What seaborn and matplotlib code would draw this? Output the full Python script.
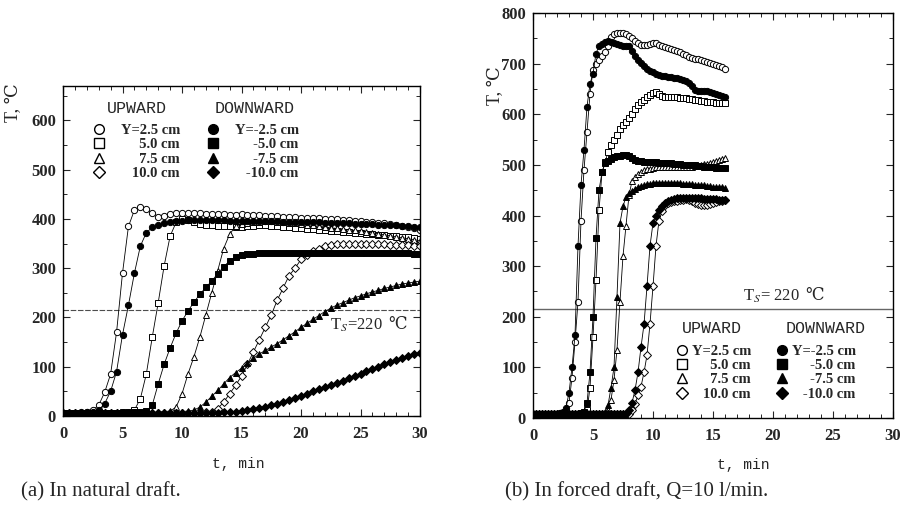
import seaborn as sns
import matplotlib.pyplot as plt
from matplotlib.lines import Line2D
from matplotlib.ticker import MultipleLocator

# ---- (a) natural draft: time, min (every 0.5 min) ----
t_natural = [0, 0.5, 1, 1.5, 2, 2.5, 3, 3.5, 4, 4.5, 5, 5.5, 6, 6.5, 7, 7.5, 8, 8.5, 9, 9.5,
             10, 10.5, 11, 11.5, 12, 12.5, 13, 13.5, 14, 14.5, 15, 15.5, 16, 16.5, 17, 17.5,
             18, 18.5, 19, 19.5, 20, 20.5, 21, 21.5, 22, 22.5, 23, 23.5, 24, 24.5, 25, 25.5,
             26, 26.5, 27, 27.5, 28, 28.5, 29, 29.5, 30]

nat_up_25 = [7, 7, 7, 8, 8, 12, 22, 48, 85, 170, 290, 385, 418, 425, 420, 412, 405, 407, 410, 412, 413,
             413, 412, 412, 411, 410, 411, 410, 409, 409, 410,
             409, 408, 408, 407, 406, 406, 405, 404, 404, 403,
             402, 402, 401, 400, 400, 399, 398, 397, 396, 395,
             394, 393, 392, 391, 390, 388, 386, 384, 381, 378]
nat_dn_25 = [7, 7, 7, 7, 8, 8, 12, 25, 50, 90, 165, 225, 290, 345, 372, 383, 388, 391, 393, 395, 396,
             397, 397, 397, 397, 397, 397, 397, 396, 396, 396,
             396, 396, 395, 395, 395, 395, 394, 394, 394, 394,
             393, 393, 393, 392, 392, 392, 391, 391, 390, 390,
             389, 389, 388, 388, 387, 387, 386, 385, 384, 383]
nat_up_50 = [7, 7, 7, 7, 7, 7, 7, 7, 7, 7, 8, 9, 12, 35, 85, 160, 230, 305, 365, 393, 400,
             398, 394, 390, 388, 387, 386, 385, 385, 384, 384,
             385, 386, 387, 387, 386, 385, 384, 383, 382, 381,
             380, 379, 378, 377, 376, 375, 374, 373, 372, 371,
             370, 369, 368, 367, 366, 365, 364, 363, 362, 360]
nat_dn_50 = [7, 7, 7, 7, 7, 7, 7, 7, 7, 7, 7, 7, 8, 8, 10, 22, 65, 105, 138, 168, 193,
             213, 231, 247, 261, 274, 289, 303, 315, 322, 326,
             328, 329, 330, 330, 331, 331, 331, 331, 331, 331,
             331, 331, 331, 331, 330, 330, 330, 330, 330, 330,
             330, 330, 330, 330, 330, 330, 330, 330, 329, 329]
nat_up_75 = [7, 7, 7, 7, 7, 7, 7, 7, 7, 7, 7, 7, 7, 7, 7, 7, 8, 9, 10, 18, 45,
             85, 120, 160, 205, 250, 295, 340, 369, 385, 390,
             392, 393, 394, 395, 395, 394, 393, 392, 391, 389,
             388, 387, 385, 384, 382, 381, 380, 378, 377, 375,
             373, 372, 370, 368, 366, 364, 362, 360, 358, 356]
nat_dn_75 = [7, 7, 7, 7, 7, 7, 7, 7, 7, 7, 7, 7, 7, 7, 7, 7, 7, 7, 7, 8, 9,
             10, 12, 18, 28, 40, 52, 65, 78, 88, 97,
             107, 117, 126, 133, 140, 147, 155, 163, 171, 180,
             188, 196, 204, 212, 219, 225, 230, 235, 240, 244,
             248, 252, 255, 259, 262, 265, 268, 270, 272, 274]
nat_up_100 = [7, 7, 7, 7, 7, 7, 7, 7, 7, 7, 7, 7, 7, 7, 7, 7, 7, 7, 7, 7, 7, 7, 7, 7, 8, 9,
              15, 28, 45, 62, 81,
              105, 130, 155, 180, 205, 235, 260, 285, 300, 318,
              326, 335, 340, 345, 347, 349, 350, 350, 350, 350,
              350, 350, 349, 349, 348, 348, 347, 347, 346, 345]
nat_dn_100 = [7, 7, 7, 7, 7, 7, 7, 7, 7, 7, 7, 7, 7, 7, 7, 7, 7, 7, 7, 7, 7, 7, 7, 7, 7, 7, 7, 8, 8,
              9, 10,
              12, 14, 16, 19, 22, 25, 29, 33, 37, 41,
              45, 50, 54, 58, 63, 67, 72, 77, 82, 86,
              91, 96, 100, 105, 110, 114, 118, 122, 125, 128]

# ---- (b) forced draft, Q=10 l/min: time, min (every 0.25 min) ----
t_forced = [0, 0.25, 0.5, 0.75, 1, 1.25, 1.5, 1.75, 2, 2.25, 2.5, 2.75,
            3, 3.25, 3.5, 3.75, 4, 4.25, 4.5, 4.75, 5, 5.25, 5.5, 5.75,
            6, 6.25, 6.5, 6.75, 7, 7.25, 7.5, 7.75, 8, 8.25, 8.5, 8.75,
            9, 9.25, 9.5, 9.75, 10, 10.25, 10.5, 10.75, 11, 11.25, 11.5, 11.75,
            12, 12.25, 12.5, 12.75, 13, 13.25, 13.5, 13.75, 14, 14.25, 14.5, 14.75,
            15, 15.25, 15.5, 15.75, 16]

frc_up_25 = [8, 8, 8, 8, 8, 8, 8, 8, 8, 9, 10, 14,
             30, 80, 150, 230, 390, 490, 565, 640, 688, 700, 708, 715,
             722, 735, 752, 758, 760, 760, 760, 758, 755, 750, 745, 740,
             737, 737, 737, 738, 740, 740, 737, 735, 732, 730, 728, 726,
             724, 722, 720, 717, 714, 712, 710, 709, 707, 705, 703, 701,
             699, 697, 695, 693, 690]
frc_dn_25 = [8, 8, 8, 8, 8, 8, 8, 8, 8, 10, 12, 20,
             50, 100, 163, 340, 460, 530, 615, 660, 680, 720, 735, 738,
             742, 744, 742, 740, 738, 736, 735, 734, 734, 725, 715, 708,
             702, 695, 690, 686, 683, 680, 678, 676, 675, 674, 673, 672,
             671, 670, 668, 665, 662, 655, 647, 645, 645, 645, 645, 644,
             642, 640, 638, 636, 634]
frc_up_50 = [8, 8, 8, 8, 8, 8, 8, 8, 8, 8, 8, 8,
             8, 8, 8, 8, 8, 8, 15, 60, 160, 272, 410, 485,
             505, 525, 540, 550, 560, 570, 578, 585, 592, 600, 610, 618,
             624, 629, 634, 638, 641, 643, 640, 636, 634, 634, 634, 634,
             634, 633, 632, 632, 631, 630, 629, 628, 627, 626, 625, 624,
             624, 623, 623, 622, 622]
frc_dn_50 = [8, 8, 8, 8, 8, 8, 8, 8, 8, 8, 8, 8,
             8, 8, 8, 8, 10, 12, 30, 90, 200, 355, 450, 485,
             503, 508, 512, 515, 517, 518, 519, 520, 518, 514, 510, 508,
             507, 506, 506, 506, 505, 505, 504, 504, 503, 503, 503, 502,
             502, 501, 500, 500, 500, 499, 499, 498, 497, 496, 496, 495,
             495, 494, 494, 493, 493]
frc_up_75 = [8, 8, 8, 8, 8, 8, 8, 8, 8, 8, 8, 8,
             8, 8, 8, 8, 8, 8, 8, 8, 8, 8, 8, 8,
             10, 15, 36, 75, 135, 230, 320, 380, 440, 468, 476, 482,
             486, 489, 491, 492, 494, 495, 495, 495, 495, 495, 495, 495,
             495, 495, 495, 495, 496, 496, 497, 498, 500, 501, 502, 504,
             506, 508, 510, 512, 514]
frc_dn_75 = [8, 8, 8, 8, 8, 8, 8, 8, 8, 8, 8, 8,
             8, 8, 8, 8, 8, 8, 8, 8, 8, 8, 8, 8,
             12, 25, 60, 100, 240, 385, 418, 437, 445, 449, 453, 456,
             458, 460, 462, 463, 464, 465, 465, 465, 465, 465, 465, 465,
             465, 464, 463, 463, 462, 462, 461, 461, 460, 460, 459, 458,
             457, 457, 456, 456, 455]
frc_up_100 = [8, 8, 8, 8, 8, 8, 8, 8, 8, 8, 8, 8,
              8, 8, 8, 8, 8, 8, 8, 8, 8, 8, 8, 8,
              8, 8, 8, 8, 8, 8, 8, 8, 8, 15, 28, 45,
              62, 90, 124, 186, 260, 340, 390, 408, 420, 425, 427, 428,
              429, 430, 431, 432, 431, 428, 425, 422, 420, 420, 421, 423,
              425, 427, 428, 429, 430]
frc_dn_100 = [8, 8, 8, 8, 8, 8, 8, 8, 8, 8, 8, 8,
              8, 8, 8, 8, 8, 8, 8, 8, 8, 8, 8, 8,
              8, 8, 8, 8, 8, 8, 8, 8, 15, 30, 55, 90,
              140, 185, 260, 340, 385, 400, 410, 418, 424, 428, 431, 433,
              434, 434, 434, 434, 434, 434, 434, 434, 434, 433, 433, 433,
              432, 432, 431, 431, 430]

up_labels = ["Y=2.5 cm", "     5.0 cm", "     7.5 cm", "   10.0 cm"]
down_labels = ["Y=-2.5 cm", "     -5.0 cm", "     -7.5 cm", "   -10.0 cm"]
markers = ["o", "s", "^", "D"]
ts_value = 215

# Style
sns.set_style("ticks")
plt.rcParams["font.family"] = ["Liberation Serif", "DejaVu Serif"]
plt.rcParams["mathtext.fontset"] = "stix"

fig = plt.figure(figsize=(9.08, 5.12), dpi=100)
ax_a = fig.add_axes([63 / 908, 1 - 416 / 512, 357 / 908, 330 / 512])
ax_b = fig.add_axes([533 / 908, 1 - 418 / 512, 360 / 908, 405 / 512])


def draw_curves(ax, t, ups, downs):
    for vals, m in zip(ups, markers):
        ms = 3.8 if m == "D" else 4.5
        sns.lineplot(x=t, y=vals, ax=ax, color="black", lw=0.6, marker=m,
                     markersize=ms, markerfacecolor="white", markeredgecolor="black",
                     markeredgewidth=0.7)
    for vals, m in zip(downs, markers):
        ms = 3.8 if m == "D" else 4.5
        sns.lineplot(x=t, y=vals, ax=ax, color="black", lw=0.6, marker=m,
                     markersize=ms, markerfacecolor="black", markeredgecolor="black",
                     markeredgewidth=0.7)


def add_legends(ax, up_x, down_x, rows_y, head_y, up_head_x, down_head_x, gap):
    up_h = [Line2D([], [], ls="none", marker=m, color="black", markerfacecolor="white",
                   markersize=7 if m != "D" else 6, markeredgewidth=1) for m in markers]
    dn_h = [Line2D([], [], ls="none", marker=m, color="black", markerfacecolor="black",
                   markersize=7 if m != "D" else 6) for m in markers]
    kw = dict(loc="center left", frameon=False, borderpad=0, borderaxespad=0,
              handlelength=1.0, handletextpad=gap, labelspacing=0.08,
              prop={"size": 10.5, "weight": "bold"})
    leg1 = ax.legend(up_h, up_labels, bbox_to_anchor=(up_x, rows_y), **kw)
    ax.add_artist(leg1)
    ax.legend(dn_h, down_labels, bbox_to_anchor=(down_x, rows_y), **kw)
    ax.text(up_head_x, head_y, "UPWARD", transform=ax.transAxes, ha="center", va="center",
            family="Liberation Mono", fontsize=12)
    ax.text(down_head_x, head_y, "DOWNWARD", transform=ax.transAxes, ha="center", va="center",
            family="Liberation Mono", fontsize=12)


def style_axes(ax, ymax):
    ax.set_xlim(0, 30)
    ax.set_ylim(0, ymax)
    ax.xaxis.set_major_locator(MultipleLocator(5))
    ax.xaxis.set_minor_locator(MultipleLocator(1))
    ax.yaxis.set_major_locator(MultipleLocator(100))
    ax.yaxis.set_minor_locator(MultipleLocator(50))
    ax.tick_params(which="both", direction="in", top=True, right=True)
    ax.tick_params(which="major", length=5, width=0.8, labelsize=12)
    ax.tick_params(axis="y", which="major", pad=5)
    ax.tick_params(axis="x", which="major", pad=7)
    ax.tick_params(which="minor", length=3, width=0.7)
    for lab in ax.get_xticklabels() + ax.get_yticklabels():
        lab.set_fontweight("bold")
    for sp in ax.spines.values():
        sp.set_linewidth(1.0)
        sp.set_color("black")
    ax.set_xlabel("t, min", family="Liberation Mono", fontsize=10.5)
    ax.set_ylabel("T, \u2103", fontsize=13)


def ts_label(ax, x, y, text):
    lab = ax.text(x, y, text, fontsize=12, va="center", ha="left")
    ax.annotate("\u2103", xy=(1, 0.5), xycoords=lab, xytext=(4, 0),
                textcoords="offset points", fontsize=12, va="center", ha="left")


# (a) natural draft
draw_curves(ax_a, t_natural,
            [nat_up_25, nat_up_50, nat_up_75, nat_up_100],
            [nat_dn_25, nat_dn_50, nat_dn_75, nat_dn_100])
ax_a.axhline(ts_value, color="0.3", lw=0.8, ls=(0, (5, 1.5)), zorder=0)
ts_label(ax_a, 22.4, 185, "T$_S$=220")
style_axes(ax_a, 670)
ax_a.xaxis.set_label_coords(0.49, -0.125)
ax_a.yaxis.set_label_coords(-0.115, 0.95)
add_legends(ax_a, 0.081, 0.40, 0.80, 0.933, 0.207, 0.538, 1.0)

# (b) forced draft
draw_curves(ax_b, t_forced,
            [frc_up_25, frc_up_50, frc_up_75, frc_up_100],
            [frc_dn_25, frc_dn_50, frc_dn_75, frc_dn_100])
ax_b.axhline(ts_value, color="0.4", lw=1.0, zorder=0)
ts_label(ax_b, 17.5, 240, "T$_S$= 220")
style_axes(ax_b, 800)
ax_b.xaxis.set_label_coords(0.585, -0.1)
ax_b.yaxis.set_label_coords(-0.08, 0.82)
add_legends(ax_b, 0.394, 0.672, 0.112, 0.222, 0.497, 0.814, 0.2)

fig.text(21 / 908, 0.04, "(a) In natural draft.", fontsize=15, va="center", ha="left")
fig.text(505 / 908, 0.04, "(b) In forced draft, Q=10 l/min.", fontsize=15, va="center", ha="left")

fig.savefig("out.png", dpi=100)
